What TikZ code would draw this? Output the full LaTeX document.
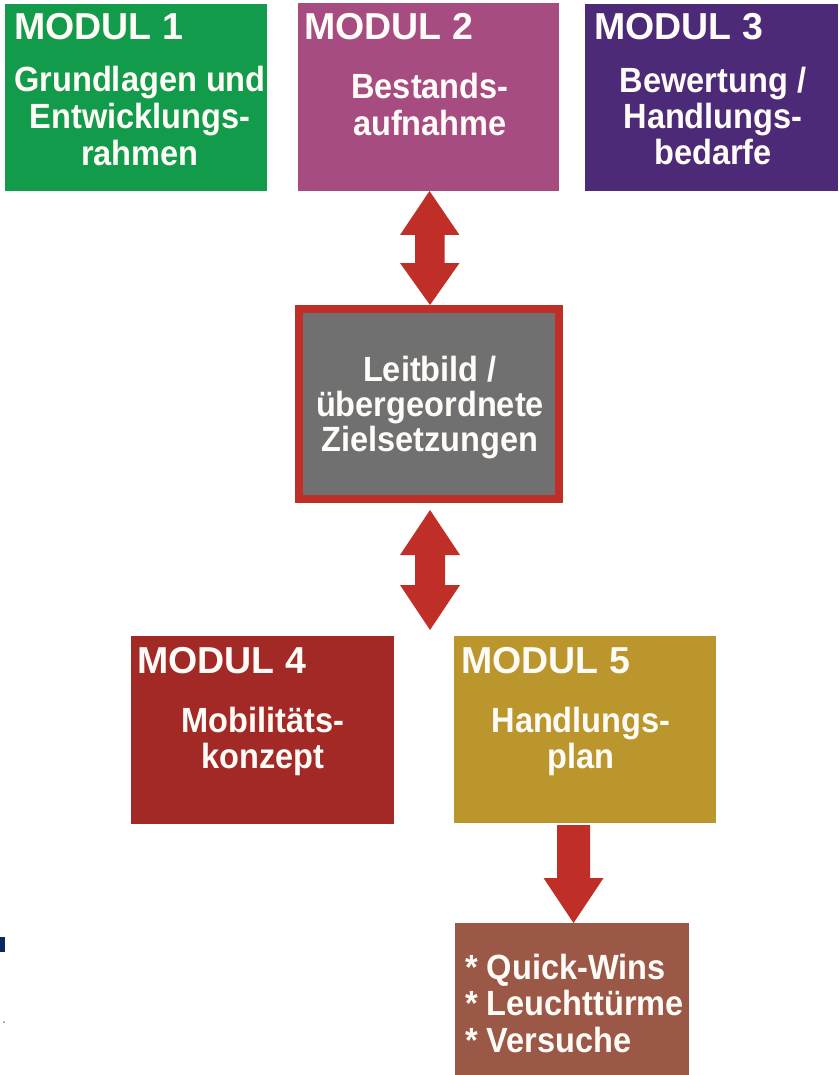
\documentclass[tikz,border=0pt]{standalone}
\usepackage{fontspec}
\setmainfont{Liberation Sans}
\newfontfamily\bodyfont{Liberation Sans}[FakeStretch=0.93]
\usetikzlibrary{calc}
\definecolor{cgreen}{RGB}{18,155,74}
\definecolor{cmagenta}{RGB}{166,76,128}
\definecolor{cpurple}{RGB}{76,42,120}
\definecolor{cgray}{RGB}{112,112,112}
\definecolor{cred}{RGB}{192,46,40}
\definecolor{cdarkred}{RGB}{163,41,38}
\definecolor{cgold}{RGB}{186,150,45}
\definecolor{cbrown}{RGB}{155,88,70}
\definecolor{cnavy}{RGB}{12,40,100}
\definecolor{ctext}{RGB}{255,252,248}
\begin{document}
\begin{tikzpicture}[x=1pt,y=-1pt,
  modbox/.style={fill=#1, draw=none, inner sep=0pt, outer sep=0pt, anchor=north west},
  modlabel/.style={text=ctext, font=\bfseries\fontsize{37.5}{40}\selectfont, anchor=base west, inner sep=0pt},
  bodytext/.style={text=ctext, font=\bodyfont\bfseries\fontsize{35}{40}\selectfont, anchor=base, inner sep=0pt},
  listtext/.style={text=ctext, font=\bodyfont\bfseries\fontsize{35}{40}\selectfont, anchor=base west, inner sep=0pt},
  bigarrow/.style={fill=cred, draw=none}]
\useasboundingbox (0,0) rectangle (838,1075);
\fill[white] (0,0) rectangle (838,1075);

% boxes
\node[modbox=cgreen, minimum width=262pt, minimum height=187pt] (m1) at (5,4) {};
\node[modbox=cmagenta, minimum width=261pt, minimum height=188pt] (m2) at (298,3) {};
\node[modbox=cpurple, minimum width=253pt, minimum height=187pt] (m3) at (585,4) {};
\node[fill=cgray, draw=cred, line width=8pt, minimum width=260pt, minimum height=190pt, inner sep=0pt] (leit) at (429,404) {};
\node[modbox=cdarkred, minimum width=263pt, minimum height=188pt] (m4) at (131,636) {};
\node[modbox=cgold, minimum width=262pt, minimum height=187pt] (m5) at (454,636) {};
\node[modbox=cbrown, minimum width=234pt, minimum height=152pt] (m6) at (455,923) {};

% small marks at left edge
\node[fill=cnavy, draw=none, inner sep=0pt, minimum width=5pt, minimum height=15pt, anchor=north west] (mark) at (0,937) {};
\node[fill=gray, draw=none, circle, inner sep=0pt, minimum size=2pt] (dot) at (4,1022) {};

% texts
\node[modlabel] (l1) at (14,40) {MODUL 1};
\node[bodytext] (t1a) at (140,92) {Grundlagen und};
\node[bodytext] (t1b) at (140,129) {Entwicklungs-};
\node[bodytext] (t1c) at (140,166) {rahmen};

\node[modlabel] (l2) at (304,40) {MODUL 2};
\node[bodytext] (t2a) at (430,99) {Bestands-};
\node[bodytext] (t2b) at (430,136) {aufnahme};

\node[modlabel] (l3) at (594,40) {MODUL 3};
\node[bodytext] (t3a) at (713,93) {Bewertung /};
\node[bodytext] (t3b) at (713,129) {Handlungs-};
\node[bodytext] (t3c) at (713,165) {bedarfe};

\node[bodytext] (t0a) at (430,381) {Leitbild /};
\node[bodytext] (t0b) at (430,416) {übergeordnete};
\node[bodytext] (t0c) at (430,451) {Zielsetzungen};

\node[modlabel] (l4) at (137,673) {MODUL 4};
\node[bodytext] (t4a) at (263,732) {Mobilitäts-};
\node[bodytext] (t4b) at (263,768) {konzept};

\node[modlabel] (l5) at (461,673) {MODUL 5};
\node[bodytext] (t5a) at (581,732) {Handlungs-};
\node[bodytext] (t5b) at (581,768) {plan};

\node[listtext] (t6a) at (465,979) {* Quick-Wins};
\node[listtext] (t6b) at (465,1015) {* Leuchttürme};
\node[listtext] (t6c) at (465,1052) {* Versuche};

% double arrow between Modul 2 and Leitbild
\fill[bigarrow] ($(m2.south)+(1,0)$) -- ++(30,44) -- ++(-15,0) -- ++(0,28) -- ++(15,0)
  -- ($(leit.north)+(1,0)$) -- ++(-30,-42) -- ++(15,0) -- ++(0,-28) -- ++(-15,0) -- cycle;

% double arrow between Leitbild and Modul 4/5
\coordinate (a2top) at ($(leit.south)+(1,7)$);
\coordinate (a2bot) at ($(a2top)+(0,120)$);
\fill[bigarrow] (a2top) -- ++(30,45) -- ++(-15,0) -- ++(0,30) -- ++(15,0)
  -- (a2bot) -- ++(-30,-45) -- ++(15,0) -- ++(0,-30) -- ++(-15,0) -- cycle;

% arrow from Modul 5 to list
\coordinate (a3top) at ($(m6.north)+(1.5,-98)$);
\fill[bigarrow] ($(a3top)+(-16.5,0)$) -- ++(33,0) -- ++(0,53) -- ++(13.5,0)
  -- (m6.north -| a3top) -- ++(-30,-45) -- ++(13.5,0) -- cycle;
\end{tikzpicture}
\end{document}
